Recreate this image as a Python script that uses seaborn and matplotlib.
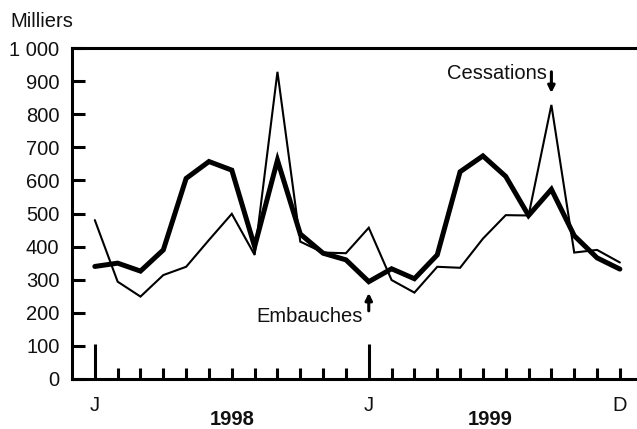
import matplotlib
matplotlib.use("Agg")
import matplotlib.pyplot as plt
import matplotlib.transforms as mtransforms
import seaborn as sns
import pandas as pd
import numpy as np

# ---- data (thousands), monthly Jan 1998 .. Dec 1999 ----
months = list(range(24))
embauches = [340, 350, 326, 390, 606, 657, 631, 400, 661, 438, 380, 360,
             294, 333, 303, 375, 626, 674, 612, 494, 573, 433, 366, 332]
cessations = [480, 294, 249, 314, 339, 420, 499, 375, 928, 415, 382, 380,
              457, 299, 261, 339, 336, 424, 495, 494, 828, 382, 390, 352]
ytick_vals = [0, 100, 200, 300, 400, 500, 600, 700, 800, 900, 1000]
ytick_labels = ["0", "100", "200", "300", "400", "500", "600", "700", "800", "900", "1 000"]
major_x = [0, 12]
major_x_labels = ["J", "J"]
minor_x_labels = {23: "D"}
years = ["1998", "1999"]
year_pos = [6.0, 17.3]

df = pd.DataFrame({"mois": months, "Embauches": embauches, "Cessations": cessations})

sns.set_theme(style="ticks")
plt.rcParams["font.family"] = ["Liberation Sans", "DejaVu Sans"]
TXT = "#111111"
FS = 14.5

fig = plt.figure(figsize=(6.37, 4.29), dpi=100)
ax = fig.add_axes([72 / 637, 50 / 429, (637 - 72) / 637, 331 / 429])

sns.lineplot(data=df, x="mois", y="Cessations", ax=ax, color="black",
             linewidth=1.5, solid_joinstyle="miter")
sns.lineplot(data=df, x="mois", y="Embauches", ax=ax, color="black",
             linewidth=3.6, solid_joinstyle="miter")

ax.set_xlim(-1, 23.75)
ax.set_ylim(0, 1000)
ax.set_xlabel("")
ax.set_ylabel("")

for s in ["left", "top", "bottom"]:
    ax.spines[s].set_linewidth(2.2)
    ax.spines[s].set_color("black")
ax.spines["right"].set_visible(False)

ax.set_yticks(ytick_vals, labels=ytick_labels)
ax.tick_params(axis="y", direction="in", length=9, width=2.2, pad=9,
               labelsize=FS, labelcolor=TXT, color="black")

minor_pos = [m for m in months if m not in major_x]
ax.set_xticks(major_x, labels=major_x_labels)
ax.set_xticks(minor_pos, labels=[minor_x_labels.get(m, "") for m in minor_pos], minor=True)
ax.tick_params(axis="x", which="major", direction="in", length=25, width=2.2,
               pad=12, labelsize=FS, labelcolor=TXT, color="black")
ax.tick_params(axis="x", which="minor", direction="in", length=8, width=2.2,
               pad=12, labelsize=FS, labelcolor=TXT, color="black")

trans = mtransforms.blended_transform_factory(ax.transData, ax.transAxes)
for yr, xp in zip(years, year_pos):
    ax.text(xp, -0.150, yr, transform=trans, ha="center", va="bottom",
            fontsize=FS, fontweight="bold", color=TXT)

fig.text(10 / 637, 1 - 27 / 429, "Milliers", ha="left", va="baseline",
         fontsize=FS, color=TXT)

# annotations
i_c = int(np.argmax(cessations[12:])) + 12
ax.annotate("", xy=(i_c, cessations[i_c] + 36), xytext=(i_c, cessations[i_c] + 100),
            arrowprops=dict(arrowstyle="-|>", lw=2.2, color="black", mutation_scale=10,
                            shrinkA=0, shrinkB=0))
ax.text(i_c - 0.18, cessations[i_c] + 96, "Cessations", ha="right", va="center",
        fontsize=FS, color=TXT)

i_e = 12
ax.annotate("", xy=(i_e, embauches[i_e] - 34), xytext=(i_e, embauches[i_e] - 88),
            arrowprops=dict(arrowstyle="-|>", lw=2.2, color="black", mutation_scale=10,
                            shrinkA=0, shrinkB=0))
ax.text(i_e - 0.26, embauches[i_e] - 105, "Embauches", ha="right", va="center",
        fontsize=FS, color=TXT)

fig.savefig("out.png", dpi=100)
